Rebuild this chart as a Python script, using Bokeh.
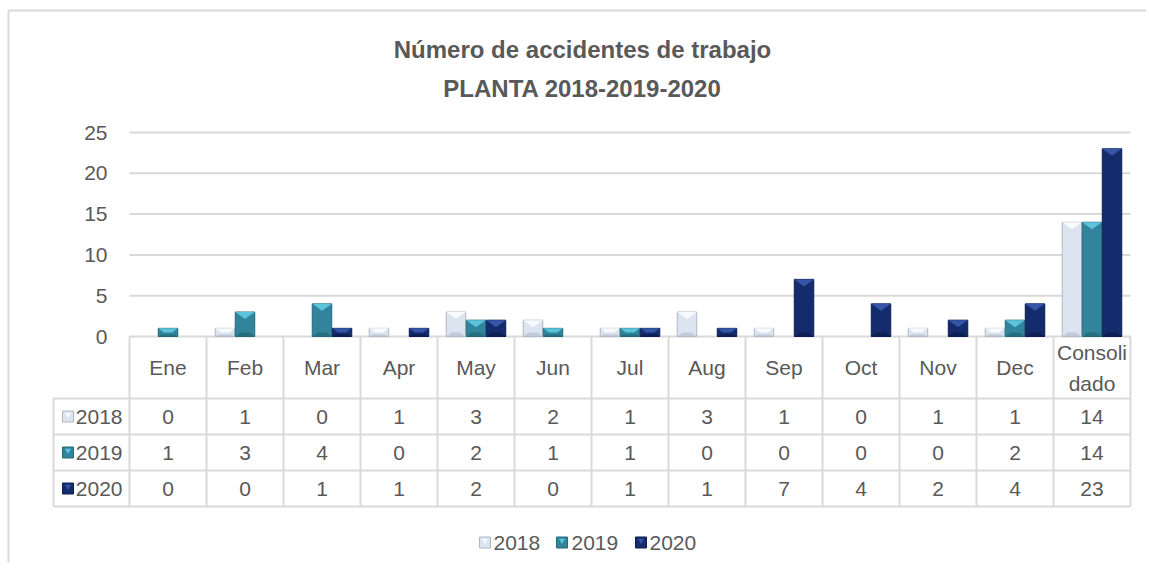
from bokeh.plotting import figure
from bokeh.models import Range1d
from bokeh.core.properties import value
from bokeh.embed import file_html
from bokeh.resources import INLINE

# ---------------- data ----------------
categories = ["Ene", "Feb", "Mar", "Apr", "May", "Jun", "Jul", "Aug", "Sep",
              "Oct", "Nov", "Dec", "Consolidado"]
series_names = ["2018", "2019", "2020"]
v2018 = [0, 1, 0, 1, 3, 2, 1, 3, 1, 0, 1, 1, 14]
v2019 = [1, 3, 4, 0, 2, 1, 1, 0, 0, 0, 0, 2, 14]
v2020 = [0, 0, 1, 1, 2, 0, 1, 1, 7, 4, 2, 4, 23]
y_ticks = [0, 5, 10, 15, 20, 25]
y_tick_labels = ["0", "5", "10", "15", "20", "25"]
title_lines = ["Número de accidentes de trabajo", "PLANTA 2018-2019-2020"]

# ---------------- styles ----------------
FACE = ["#dbe4ef", "#31849b", "#142c6c"]
TOP = ["#f8fafd", "#5cc3dc", "#3556a6"]
BOTTOM = ["#b9c3cf", "#22697c", "#0b1c4c"]
EDGE = ["#aeb8c5", "#246a7d", "#0c1f55"]
TXT = "#595959"
GRID = "#d9d9d9"
FONT = value("Liberation Sans")
FSIZE = "21px"

W, H = 1146, 562
OX, OY = 1, 1
X0_PAGE, CAT_PX = 130, 1001 / 13
Y0_PAGE, UNIT_PX = 337, 204 / 25


def xd(px):
    return (px - X0_PAGE) / CAT_PX


def yd(py):
    return (Y0_PAGE - py) / UNIT_PX


p = figure(width=W, height=H, output_backend="svg", toolbar_location=None,
           x_range=Range1d(xd(OX), xd(OX + W)),
           y_range=Range1d(yd(OY + H), yd(OY)),
           x_axis_location=None, y_axis_location=None, min_border=0)
p.grid.visible = False
p.outline_line_color = None
p.background_fill_color = "white"
p.border_fill_color = "white"

n = len(categories)

# outer chart border (left and top)
p.segment(x0=[xd(9), xd(9)], y0=[yd(11), yd(11)],
          x1=[xd(9), xd(OX + W + 5)], y1=[yd(OY + H + 5), yd(11)],
          line_color=GRID, line_width=2)

# gridlines
p.segment(x0=[0] * (len(y_ticks) - 1), x1=[n] * (len(y_ticks) - 1),
          y0=y_ticks[1:], y1=y_ticks[1:], line_color=GRID, line_width=2)

# y tick labels
p.text(x=[xd(108)] * len(y_ticks), y=y_ticks, text=y_tick_labels,
       text_align="right", text_baseline="middle", text_color=TXT,
       text_font=FONT, text_font_size=FSIZE)

# table lines
row_lines_px = [399, 435, 471, 507]
p.segment(x0=[0], x1=[n], y0=[0], y1=[0], line_color=GRID, line_width=2)
p.segment(x0=[xd(54)] * 4, x1=[n] * 4, y0=[yd(v) for v in row_lines_px],
          y1=[yd(v) for v in row_lines_px], line_color=GRID, line_width=2)
p.segment(x0=list(range(n + 1)), x1=list(range(n + 1)), y0=[0] * (n + 1),
          y1=[yd(507)] * (n + 1), line_color=GRID, line_width=2)
p.segment(x0=[xd(54)], x1=[xd(54)], y0=[yd(399)], y1=[yd(507)],
          line_color=GRID, line_width=2)

# bars
series = [v2018, v2019, v2020]
offsets = [-0.26, 0.0, 0.26]
bw = 0.253
half_px = bw * CAT_PX / 2
for si, vals in enumerate(series):
    xs_c = [i + 0.5 + offsets[si] for i, v in enumerate(vals) if v > 0]
    tops = [v for v in vals if v > 0]
    p.vbar(x=xs_c, top=tops, bottom=0, width=bw, fill_color=FACE[si],
           line_color=EDGE[si], line_width=1)
    top_xs, top_ys, bot_xs, bot_ys = [], [], [], []
    for xc, t in zip(xs_c, tops):
        hpx = t * UNIT_PX
        dy_px = min(7.0, hpx / 2)
        d_px = half_px * min(1.0, dy_px / 7.0)
        l, r = xc - bw / 2, xc + bw / 2
        dx = d_px / CAT_PX
        dy = dy_px / UNIT_PX
        top_xs.append([l, r, r - dx, l + dx])
        top_ys.append([t, t, t - dy, t - dy])
        bdy_px = min(4.0, hpx / 4)
        bdx = half_px * min(1.0, bdy_px / 7.0) / CAT_PX
        bdy = bdy_px / UNIT_PX
        bot_xs.append([l, r, r - bdx, l + bdx])
        bot_ys.append([0, 0, bdy, bdy])
    p.patches(xs=top_xs, ys=top_ys, fill_color=TOP[si], line_color=None)
    p.patches(xs=bot_xs, ys=bot_ys, fill_color=BOTTOM[si], line_color=None,
              fill_alpha=0.8)

# title
p.text(x=[xd(583)] * 2, y=[yd(50), yd(89)], text=title_lines,
       text_align="center", text_baseline="middle", text_color=TXT,
       text_font=FONT, text_font_size="24px", text_font_style="bold")

# table header
hdr_x, hdr_y, hdr_t = [], [], []
for i, c in enumerate(categories):
    if len(c) > 8:
        hdr_x += [i + 0.5, i + 0.5]
        hdr_y += [yd(353), yd(384)]
        hdr_t += [c[:7], c[7:]]
    else:
        hdr_x.append(i + 0.5)
        hdr_y.append(yd(368))
        hdr_t.append(c)
p.text(x=hdr_x, y=hdr_y, text=hdr_t, text_align="center",
       text_baseline="middle", text_color=TXT, text_font=FONT,
       text_font_size=FSIZE)

# table rows
row_centers = [417, 453, 489]
for si, vals in enumerate(series):
    p.text(x=[i + 0.5 for i in range(n)], y=[yd(row_centers[si])] * n,
           text=[str(v) for v in vals], text_align="center",
           text_baseline="middle", text_color=TXT, text_font=FONT,
           text_font_size=FSIZE)
    p.rect(x=[xd(68.5)], y=[yd(row_centers[si])], width=11, height=11,
           width_units="screen", height_units="screen",
           fill_color=FACE[si], line_color=EDGE[si])
    p.scatter(x=[xd(68.5)], y=[yd(row_centers[si] - 2)], marker="inverted_triangle",
              size=6, fill_color=TOP[si], line_color=None)
p.text(x=[xd(123)] * 3, y=[yd(c) for c in row_centers], text=series_names,
       text_align="right", text_baseline="middle", text_color=TXT,
       text_font=FONT, text_font_size=FSIZE)

# bottom legend
leg_sq = [485.5, 562.5, 641.5]
leg_tx = [494, 572, 650]
p.rect(x=[xd(v) for v in leg_sq], y=[yd(543)] * 3, width=11, height=11,
       width_units="screen", height_units="screen", fill_color=FACE,
       line_color=EDGE)
p.scatter(x=[xd(v) for v in leg_sq], y=[yd(541)] * 3, marker="inverted_triangle",
          size=6, fill_color=TOP, line_color=None)
p.text(x=[xd(v) for v in leg_tx], y=[yd(543)] * 3, text=series_names,
       text_align="left", text_baseline="middle", text_color=TXT,
       text_font=FONT, text_font_size=FSIZE)

open("out.html", "w").write(file_html(p, INLINE))
